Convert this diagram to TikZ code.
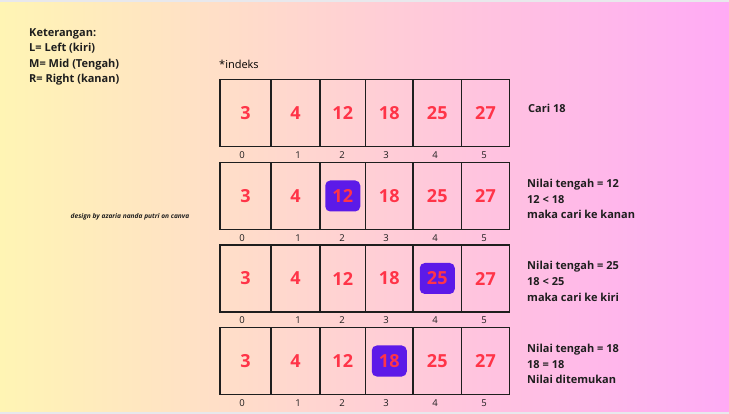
\documentclass[tikz,border=0pt]{standalone}
\usepackage{fontspec}
\setmainfont{Open Sans}
\definecolor{bgyellow}{RGB}{255,245,180}
\definecolor{bgpink}{RGB}{255,170,245}
\definecolor{bggray}{RGB}{232,232,236}
\definecolor{numred}{RGB}{255,52,72}
\definecolor{midpurple}{RGB}{92,26,232}
\definecolor{inkdark}{RGB}{30,30,30}
\tikzset{
  cellbox/.style={draw=inkdark, line width=1.5pt, inner sep=0pt, font=\fontsize{18}{20}\selectfont\bfseries, text=numred},
  idxlabel/.style={inner sep=0pt, font=\fontsize{9.5}{11}\selectfont, text=inkdark},
  notetext/.style={inner sep=0pt, anchor=west, align=left, font=\fontsize{11}{15.6}\selectfont\bfseries, text=inkdark}
}
\begin{document}
\begin{tikzpicture}[x=1pt,y=-1pt]
\useasboundingbox (0,0) rectangle (729,414);

% Background
\shade[left color=bgyellow, right color=bgpink] (0,0) rectangle (729,414);
\fill[bggray] (0,0) rectangle (729,2);
\fill[bggray] (0,412) rectangle (729,414);

% Legend
\node[notetext, font=\fontsize{11}{15.3}\selectfont\bfseries] (legend) at (29,57) {Keterangan:\\L= Left (kiri)\\M= Mid (Tengah)\\R= Right (kanan)};
\node[inner sep=0pt, anchor=west, font=\fontsize{11}{13}\selectfont] (indeks) at (219,64) {*indeks};
\node[inner sep=0pt, font=\fontsize{6.6}{8}\selectfont\bfseries\itshape, text=inkdark] (credit) at (130,216.5) {design by azaria nanda putri on canva};

% Array rows (top edge / highlighted middle index)
\foreach \top/\mid [count=\r] in {79.5/-1, 162.5/2, 245/4, 327.5/3} {
  \foreach \xa/\xb/\val/\ix [count=\i from 0] in {220/271/3/242, 271/320/4/298, 320/365.5/12/342, 365.5/413/18/386, 413/461.5/25/435, 461.5/509.5/27/484} {
    \ifnum\i=\mid
      \fill[midpurple, rounded corners=5pt] ({(\xa+\xb)/2-17.5},{\top+33.5-15.5}) rectangle ({(\xa+\xb)/2+17.5},{\top+33.5+15.5});
    \fi
    \node[cellbox, minimum width={\xb pt-\xa pt}, minimum height=67pt] (c\r\i) at ({(\xa+\xb)/2},{\top+33.5}) {\val};
    \node[idxlabel] (i\r\i) at (\ix,{\top+75.5}) {\i};
  }
}

% Notes
\node[notetext] (note1) at (528,108.7) {Cari 18};
\node[notetext] (note2) at (527,199.2) {Nilai tengah = 12\\12 < 18\\maka cari ke kanan};
\node[notetext] (note3) at (527,281.3) {Nilai tengah = 25\\18 < 25\\maka cari ke kiri};
\node[notetext] (note4) at (527,364) {Nilai tengah = 18\\18 = 18\\Nilai ditemukan};

\end{tikzpicture}
\end{document}
